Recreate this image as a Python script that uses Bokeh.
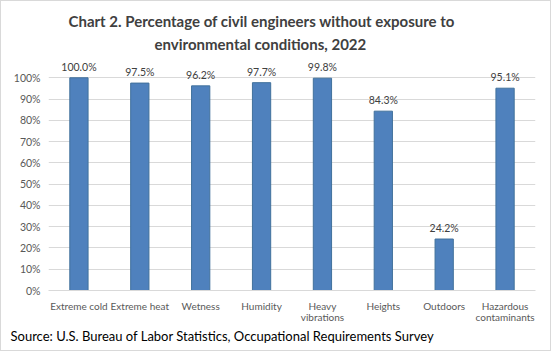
from bokeh.plotting import figure
from bokeh.models import (FactorRange, FixedTicker, NumeralTickFormatter, ColumnDataSource,
                          CategoricalAxis, Title, CustomJSTickFormatter)
from bokeh.layouts import column
from bokeh.core.properties import value
from bokeh.embed import file_html
from bokeh.resources import INLINE

categories = ["Extreme cold", "Extreme heat", "Wetness", "Humidity",
              "Heavy vibrations", "Heights", "Outdoors", "Hazardous contaminants"]
label_line1 = ["Extreme cold", "Extreme heat", "Wetness", "Humidity",
               "Heavy", "Heights", "Outdoors", "Hazardous"]
label_line2 = ["", "", "", "", "vibrations", "", "", "contaminants"]
values = [1.000, 0.975, 0.962, 0.977, 0.998, 0.843, 0.242, 0.951]
value_labels = ["100.0%", "97.5%", "96.2%", "97.7%", "99.8%", "84.3%", "24.2%", "95.1%"]
y_ticks = [0.0, 0.1, 0.2, 0.3, 0.4, 0.5, 0.6, 0.7, 0.8, 0.9, 1.0]
title_lines = ["Chart 2. Percentage of civil engineers without exposure to",
               "environmental conditions, 2022"]
source_text = "Source: U.S. Bureau of Labor Statistics, Occupational Requirements Survey"

FONT = "Lato"

src = ColumnDataSource(dict(cat=categories, val=values, lab=value_labels))

p = figure(width=549, height=349, x_range=FactorRange(*categories), y_range=(0, 1.1),
           output_backend="svg", toolbar_location=None,
           min_border_left=47, min_border_right=15, min_border_top=55, min_border_bottom=60)
p.outline_line_color = None
p.background_fill_color = "white"
p.border_fill_color = "white"

p.vbar(x="cat", top="val", width=0.3, source=src, fill_color="#4f81bd", line_color="#41719c", line_width=1)
p.text(x="cat", y="val", text="lab", source=src, text_align="center", text_baseline="bottom",
       y_offset=-5, text_font=value(FONT), text_font_size="10.5px", text_color="#404040")

p.xgrid.grid_line_color = None
p.ygrid.grid_line_color = "#d9d9d9"
p.ygrid.ticker = FixedTicker(ticks=y_ticks)

p.yaxis.ticker = FixedTicker(ticks=y_ticks)
p.yaxis.formatter = NumeralTickFormatter(format="0%")
p.yaxis.axis_line_color = None
p.yaxis.major_tick_line_color = None
p.yaxis.minor_tick_line_color = None
p.yaxis.major_tick_out = 0
p.yaxis.major_tick_in = 0
p.yaxis.major_label_text_font = FONT
p.yaxis.major_label_text_font_size = "10.5px"
p.yaxis.major_label_text_color = "#595959"
p.yaxis.major_label_standoff = 8

def style_x(ax, line_color, standoff, labels):
    ax.axis_line_color = line_color
    ax.major_tick_line_color = None
    ax.minor_tick_line_color = None
    ax.major_tick_out = 0
    ax.major_tick_in = 0
    ax.major_label_text_font = FONT
    ax.major_label_text_font_size = "10px"
    ax.major_label_text_color = "#595959"
    ax.major_label_standoff = standoff
    ax.formatter = CustomJSTickFormatter(args=dict(m=dict(zip(categories, labels))),
                                         code="const s = m[tick]; return (s === undefined) ? tick : s;")

style_x(p.xaxis[0], "#d9d9d9", 9, label_line1)

ax2 = CategoricalAxis()
style_x(ax2, None, -4, label_line2)
p.add_layout(ax2, "below")

p.add_layout(Title(text=source_text, align="left", offset=-38, standoff=0, text_font=FONT,
                   text_font_size="13px", text_font_style="normal", text_color="black"), "below")
p.add_layout(Title(text=title_lines[1], align="left", offset=106, standoff=7, text_font=FONT,
                   text_font_size="15px", text_font_style="bold", text_color="#404040"), "above")
p.add_layout(Title(text=title_lines[0], align="left", offset=20, standoff=0, text_font=FONT,
                   text_font_size="15px", text_font_style="bold", text_color="#404040"), "above")

layout = column(p, styles={"border": "1px solid #d9d9d9", "box-sizing": "content-box"})

open("out.html", "w").write(file_html(layout, INLINE))
